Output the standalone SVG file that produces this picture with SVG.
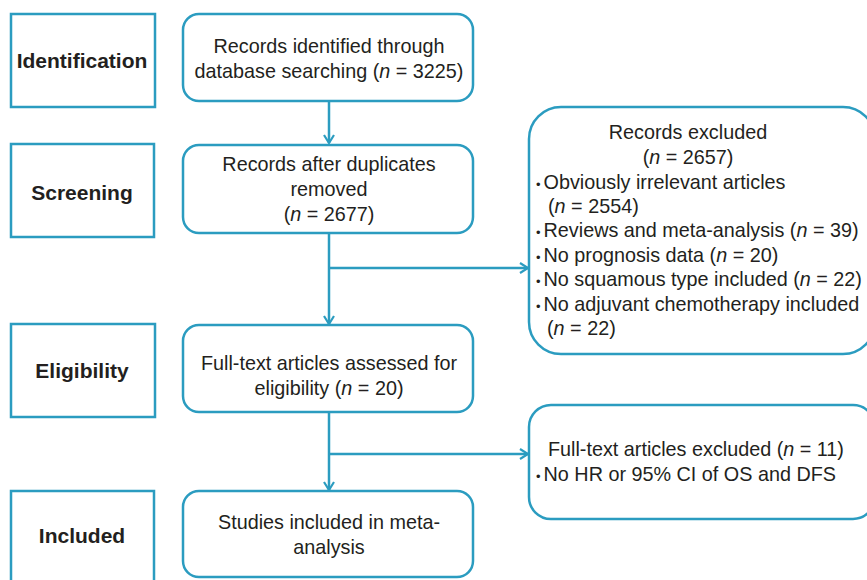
<svg xmlns="http://www.w3.org/2000/svg" width="867" height="580" viewBox="0 0 867 580">
<defs>
<style>
.stage{fill:#fff;stroke:#2b9cc0;stroke-width:2.5}
.box{fill:#fff;stroke:#2b9cc0;stroke-width:2.5}
.lbl{font-family:"Liberation Sans",Arial,sans-serif;font-size:21px;font-weight:bold;fill:#231f20;text-anchor:middle}
.t{font-family:"Liberation Sans",Arial,sans-serif;font-size:19.8px;fill:#231f20}
.c{text-anchor:middle}
.i{font-style:italic}
.b{font-size:13px}
.conn{fill:none;stroke:#2b9cc0;stroke-width:2.5}
</style>
<marker id="ah" viewBox="0 0 12 12" refX="10" refY="6" markerWidth="12" markerHeight="12" markerUnits="userSpaceOnUse" orient="auto">
<path d="M2,1 L10,6 L2,11" fill="none" stroke="#2b9cc0" stroke-width="2.2"/>
</marker>
</defs>
<rect width="867" height="580" fill="#fff"/>

<g id="connectors">
<line class="conn" x1="329" y1="101" x2="329" y2="143" marker-end="url(#ah)"/>
<line class="conn" x1="329" y1="233" x2="329" y2="324" marker-end="url(#ah)"/>
<line class="conn" x1="329" y1="268" x2="528" y2="268" marker-end="url(#ah)"/>
<line class="conn" x1="329" y1="412" x2="329" y2="490" marker-end="url(#ah)"/>
<line class="conn" x1="329" y1="454" x2="528" y2="454" marker-end="url(#ah)"/>
</g>

<g id="stage-identification">
<rect class="stage" x="11" y="14" width="144" height="93"/>
<text class="lbl" x="82" y="68">Identification</text>
</g>
<g id="stage-screening">
<rect class="stage" x="11" y="144" width="143" height="93"/>
<text class="lbl" x="82" y="200">Screening</text>
</g>
<g id="stage-eligibility">
<rect class="stage" x="11" y="324" width="144" height="93"/>
<text class="lbl" x="82" y="378">Eligibility</text>
</g>
<g id="stage-included">
<rect class="stage" x="11" y="491" width="143" height="110"/>
<text class="lbl" x="82" y="543">Included</text>
</g>

<g id="node-identified">
<rect class="box" x="183" y="14" width="290" height="87" rx="16"/>
<text class="t c" x="329" y="53">Records identified through</text>
<text class="t c" x="329" y="78">database searching (<tspan class="i">n</tspan> = 3225)</text>
</g>
<g id="node-screened">
<rect class="box" x="183" y="145" width="290" height="88" rx="16"/>
<text class="t c" x="329" y="171">Records after duplicates</text>
<text class="t c" x="329" y="196">removed</text>
<text class="t c" x="329" y="221">(<tspan class="i">n</tspan> = 2677)</text>
</g>
<g id="node-eligibility">
<rect class="box" x="183" y="325" width="290" height="87" rx="16"/>
<text class="t c" x="329" y="370">Full-text articles assessed for</text>
<text class="t c" x="329" y="395">eligibility (<tspan class="i">n</tspan> = 20)</text>
</g>
<g id="node-included">
<rect class="box" x="183" y="491" width="290" height="86" rx="16"/>
<text class="t c" x="329" y="529">Studies included in meta-</text>
<text class="t c" x="329" y="554">analysis</text>
</g>

<g id="node-excluded-records">
<rect class="box" x="529" y="107" width="346" height="247" rx="32"/>
<text class="t c" x="688" y="139">Records excluded</text>
<text class="t c" x="688" y="164">(<tspan class="i">n</tspan> = 2657)</text>
<text class="t" x="536" y="189"><tspan class="b">•</tspan><tspan dx="3">Obviously irrelevant articles</tspan></text>
<text class="t" x="548" y="213">(<tspan class="i">n</tspan> = 2554)</text>
<text class="t" x="536" y="237"><tspan class="b">•</tspan><tspan dx="3">Reviews and meta-analysis (</tspan><tspan class="i">n</tspan> = 39)</text>
<text class="t" x="536" y="262"><tspan class="b">•</tspan><tspan dx="3">No prognosis data (</tspan><tspan class="i">n</tspan> = 20)</text>
<text class="t" x="536" y="286"><tspan class="b">•</tspan><tspan dx="3">No squamous type included (</tspan><tspan class="i">n</tspan> = 22)</text>
<text class="t" x="536" y="311"><tspan class="b">•</tspan><tspan dx="3">No adjuvant chemotherapy included</tspan></text>
<text class="t" x="547" y="335">(<tspan class="i">n</tspan> = 22)</text>
</g>

<g id="node-excluded-fulltext">
<rect class="box" x="529" y="405" width="346" height="114" rx="22"/>
<text class="t" x="548" y="456">Full-text articles excluded (<tspan class="i">n</tspan> = 11)</text>
<text class="t" x="536" y="481"><tspan class="b">•</tspan><tspan dx="3">No HR or 95% CI of OS and DFS</tspan></text>
</g>
</svg>
